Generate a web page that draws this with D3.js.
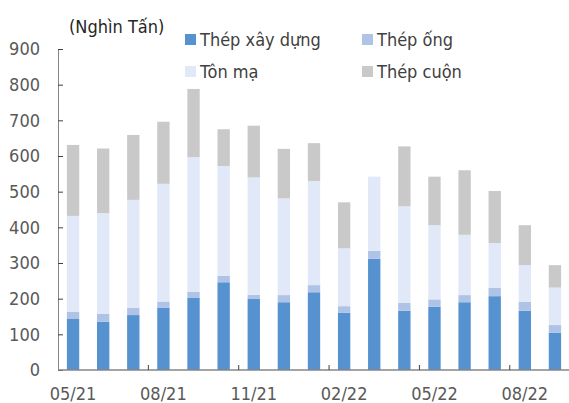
<!DOCTYPE html>
<html>
<head>
<meta charset="utf-8">
<script src="https://cdnjs.cloudflare.com/ajax/libs/d3/7.8.5/d3.min.js"></script>
<style>
  body { margin: 0; background: #fff; }
  text { font-family: "DejaVu Sans Condensed", "DejaVu Sans", sans-serif; font-stretch: condensed; }
</style>
</head>
<body>
<svg width="569" height="403"></svg>
<script>
// du lieu (nghin tan)
var months = ["05/21","06/21","07/21","08/21","09/21","10/21","11/21","12/21","01/22",
              "02/22","03/22","04/22","05/22","06/22","07/22","08/22","09/22"];
var xayDung = [143,135,154,174,202,246,199,190,218,161,312,166,177,190,207,166,104];
var ong     = [20,22,20,18,17,18,12,20,20,18,22,22,21,20,23,25,22];
var tonMa   = [269,283,303,330,378,308,329,271,292,162,208,271,208,169,126,103,105];
var cuon    = [199,181,182,174,191,103,145,139,106,129,0,168,136,181,146,112,63];
var seriesNames = ["Thép xây dựng","Thép ống","Tôn mạ","Thép cuộn"];
var colors = ["#5592CF","#AEC3E6","#E1E8F7","#C9C9C9"];
var yTicks = [0,100,200,300,400,500,600,700,800,900];

var svg = d3.select("svg");

var rows = months.map(function(m, i) {
    return { m: m, a: xayDung[i], b: ong[i], c: tonMa[i], d: cuon[i] };
});
var stack = d3.stack().keys(["a","b","c","d"])(rows);

var x = d3.scaleBand().domain(months).range([58, 570])
    .paddingInner(0.59).paddingOuter(0.295);
var y = d3.scaleLinear().domain([0, 900]).range([370, 49]);

// bars
svg.append("g").selectAll("g")
    .data(stack).enter()
    .append("g")
    .attr("fill", function(d, i) { return colors[i]; })
    .selectAll("rect")
    .data(function(d) { return d; }).enter()
    .append("rect")
    .attr("x", function(d) { return x(d.data.m); })
    .attr("y", function(d) { return y(d[1]); })
    .attr("width", x.bandwidth())
    .attr("height", function(d) { return y(d[0]) - y(d[1]); });

// truc y
var yAxis = svg.append("g")
    .attr("transform", "translate(58,0)")
    .call(d3.axisLeft(y).tickValues(yTicks).tickSizeInner(-5).tickSizeOuter(0).tickPadding(18));
yAxis.select(".domain").attr("stroke", "#868686");
yAxis.selectAll(".tick line").attr("stroke", "#404040");
yAxis.selectAll("text").attr("font-size", 18).attr("fill", "#595959")
    .style("font-family", "'DejaVu Sans Condensed','DejaVu Sans',sans-serif");

// truc x
var gap = x.step() - x.bandwidth();
svg.append("line")
    .attr("x1", 58).attr("x2", 569).attr("y1", y(0)).attr("y2", y(0))
    .attr("stroke", "#868686").attr("stroke-width", 1.5);

var tickMonths = months.filter(function(d, i) { return i > 0 && i % 3 == 0; });
svg.append("g").selectAll("line")
    .data(tickMonths).enter()
    .append("line")
    .attr("x1", function(d) { return x(d) - gap / 2; })
    .attr("x2", function(d) { return x(d) - gap / 2; })
    .attr("y1", y(0)).attr("y2", y(0) - 5)
    .attr("stroke", "#404040");

var labelMonths = months.filter(function(d, i) { return i % 3 == 0; });
svg.append("g").selectAll("text")
    .data(labelMonths).enter()
    .append("text")
    .attr("x", function(d) { return x(d) + x.bandwidth() / 2; })
    .attr("y", 400)
    .attr("text-anchor", "middle")
    .attr("font-size", 18)
    .attr("fill", "#595959")
    .text(function(d) { return d; });

// don vi
svg.append("text")
    .attr("x", 69).attr("y", 33)
    .attr("font-size", 18)
    .attr("fill", "#262626")
    .text("(Nghìn Tấn)");

// chu giai: hang 1 xay dung, ong ; hang 2 ton ma, cuon
var legendPos = [[185, 34], [362, 34], [185, 66], [362, 66]];
var leg = svg.append("g").selectAll("g")
    .data(seriesNames).enter()
    .append("g")
    .attr("transform", function(d, i) { return "translate(" + legendPos[i][0] + "," + legendPos[i][1] + ")"; });
leg.append("rect")
    .attr("width", 11).attr("height", 11)
    .attr("fill", function(d, i) { return colors[i]; });
leg.append("text")
    .attr("x", 15).attr("y", 11.5)
    .attr("font-size", 18)
    .attr("fill", "#404040")
    .text(function(d) { return d; });
</script>
</body>
</html>
